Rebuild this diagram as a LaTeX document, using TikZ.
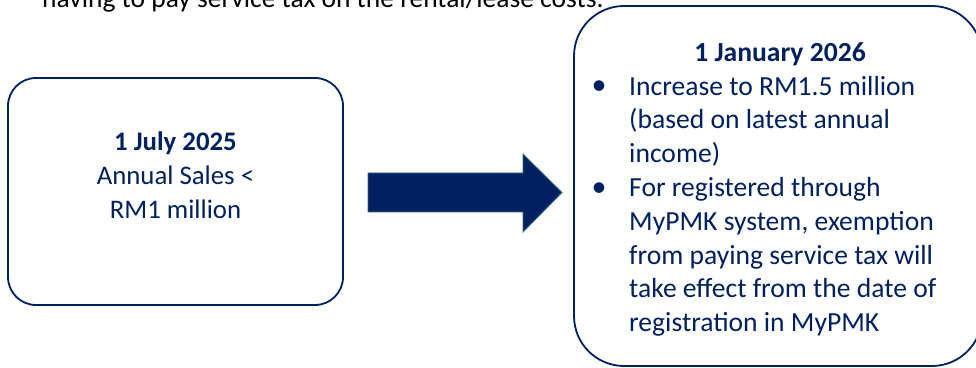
\documentclass[tikz,border=0pt]{standalone}
\usepackage{fontspec}
\setmainfont{Carlito}
\usepackage{tikz}
\usetikzlibrary{positioning}
\definecolor{navy}{HTML}{002060}
\definecolor{arrowedge}{HTML}{2F6A8A}

\begin{document}
\begin{tikzpicture}[x=1pt,y=1pt,
    roundbox/.style={draw=navy, line width=1.8pt, fill=white, inner sep=0pt},
    boxtext/.style={text=navy, inner sep=0pt, font=\fontsize{27.6}{33.8}\selectfont},
    bulletmark/.style={text=navy, inner sep=0pt, font=\fontsize{30}{30}\selectfont}]
    \useasboundingbox (0,0) rectangle (976,367);
    \clip (0,0) rectangle (976,367);
    \node[anchor=base west, inner sep=0pt, font=\fontsize{27.5}{30}\selectfont] (intro) at (42,359)
        {having to pay service tax on the rental/lease costs.};
    \node[roundbox, minimum width=335pt, minimum height=227pt, rounded corners=28pt] (jul) at (175.5,175.5) {};
    \node[roundbox, minimum width=408pt, minimum height=360pt, rounded corners=50pt] (jan) at (778,181) {};
    \node[boxtext, font=\fontsize{26.8}{33.5}\selectfont, align=center, anchor=base] (jultext) at (175.5,149)
        {\textbf{1 July 2025}\\Annual Sales <\\RM1 million};
    \node[boxtext, anchor=base] (jantitle) at (780,305.5) {\textbf{1 January 2026}};
    \node[boxtext, align=left, anchor=base west] (janlist) at (629,35.4)
        {Increase to RM1.5 million\\(based on latest annual\\income)\\For registered through\\MyPMK system, exemption\\from paying service tax will\\take effect from the date of\\registration in MyPMK};
    \node[bulletmark, anchor=base] (dot1) at (599,272) {•};
    \node[bulletmark, anchor=base] (dot2) at (599,170) {•};
    \fill[navy, draw=arrowedge, line width=0.8pt] (368,155) -- (368,194) -- (523,194) -- (523,213)
        -- (562,174.5) -- (523,135) -- (523,155) -- cycle;
\end{tikzpicture}
\end{document}
